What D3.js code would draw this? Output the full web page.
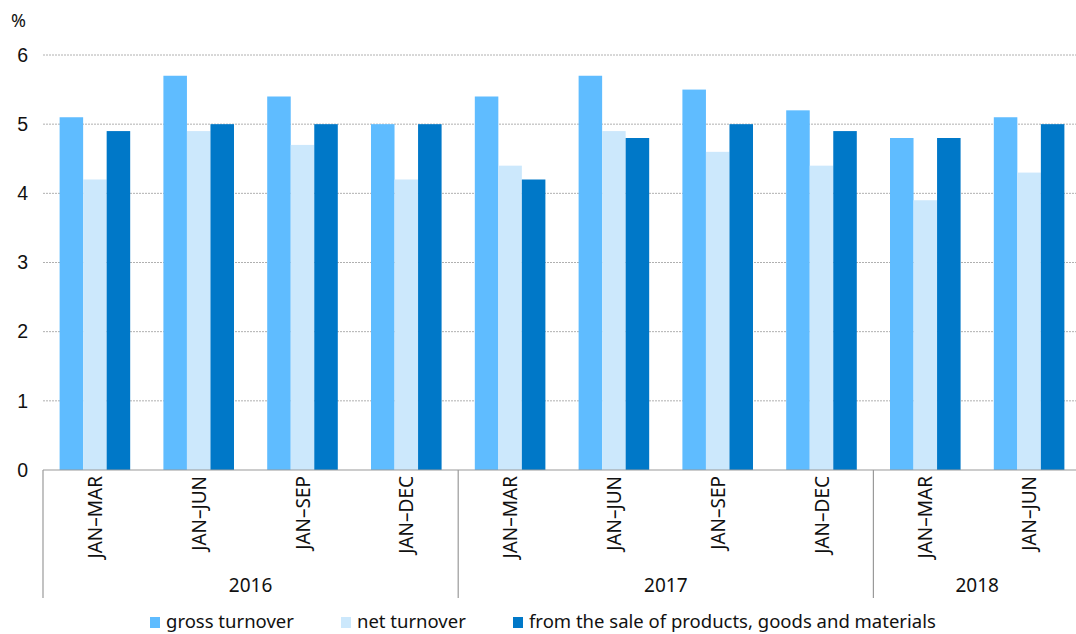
<!DOCTYPE html>
<html>
<head>
<meta charset="utf-8">
<script src="https://cdn.jsdelivr.net/npm/d3@7"></script>
<style>
  html, body { margin: 0; padding: 0; background: #fff; }
  svg { display: block; font-family: "Noto Sans", "Open Sans", sans-serif; }
</style>
</head>
<body>
<svg id="chart" width="1076" height="634"></svg>
<script>
// Quarterly periods and the year each group belongs to
const periods = ["JAN–MAR", "JAN–JUN", "JAN–SEP", "JAN–DEC", "JAN–MAR", "JAN–JUN", "JAN–SEP", "JAN–DEC", "JAN–MAR", "JAN–JUN"];
const years = ["2016", "2016", "2016", "2016", "2017", "2017", "2017", "2017", "2018", "2018"];

// Series values, %
const grossTurnover = [5.1, 5.7, 5.4, 5.0, 5.4, 5.7, 5.5, 5.2, 4.8, 5.1];
const netTurnover = [4.2, 4.9, 4.7, 4.2, 4.4, 4.9, 4.6, 4.4, 3.9, 4.3];
const fromSale = [4.9, 5.0, 5.0, 5.0, 4.2, 4.8, 5.0, 4.9, 4.8, 5.0];

const seriesNames = ["gross turnover", "net turnover", "from the sale of products, goods and materials"];
const yTicks = [0, 1, 2, 3, 4, 5, 6];

const colors = ["#5fbcff", "#cce8fc", "#0078c8"];
const seriesValues = [grossTurnover, netTurnover, fromSale];

const svg = d3.select("#chart");
const plotLeft = 43, plotRight = 1081, plotTop = 55, plotBottom = 470;

const x = d3.scaleBand().domain(d3.range(periods.length)).range([plotLeft, plotRight]).paddingInner(0.32).paddingOuter(0.16);
const xInner = d3.scaleBand().domain(d3.range(3)).range([0, x.bandwidth()]);
const y = d3.scaleLinear().domain([0, 6]).range([plotBottom, plotTop]);
const step = x.step();

// Horizontal gridlines
svg.append("g")
  .selectAll("line")
  .data(yTicks.filter(t => t > 0))
  .join("line")
  .attr("x1", plotLeft).attr("x2", 1076)
  .attr("y1", d => y(d)).attr("y2", d => y(d))
  .attr("stroke", "#b0b0b0").attr("stroke-width", 1)
  .attr("stroke-dasharray", "2,1");

// Y axis labels
const yAxis = d3.axisLeft(y).tickValues(yTicks).tickSize(0).tickPadding(15).tickFormat(d3.format("d"));
const gy = svg.append("g").attr("transform", `translate(${plotLeft},0)`).call(yAxis);
gy.select(".domain").remove();
gy.selectAll("text").attr("font-size", 19.5).attr("fill", "#111").attr("font-family", null);

svg.append("text").attr("x", 11).attr("y", 27).attr("font-size", 18).attr("fill", "#111").text("%");

// Bars
const groups = svg.append("g")
  .selectAll("g")
  .data(periods.map((p, i) => i))
  .join("g")
  .attr("transform", i => `translate(${x(i)},0)`);

groups.selectAll("rect")
  .data(i => seriesValues.map((s, k) => ({ k, v: s[i] })))
  .join("rect")
  .attr("x", d => xInner(d.k))
  .attr("width", xInner.bandwidth())
  .attr("y", d => y(d.v))
  .attr("height", d => y(0) - y(d.v))
  .attr("fill", d => colors[d.k]);

// Baseline
svg.append("line")
  .attr("x1", plotLeft).attr("x2", 1076)
  .attr("y1", y(0)).attr("y2", y(0))
  .attr("stroke", "#9a9a9a").attr("stroke-width", 1.2);

// Year separators
const boundaries = [0];
years.forEach((yr, i) => { if (i > 0 && yr !== years[i - 1]) boundaries.push(i); });
svg.append("g")
  .selectAll("line")
  .data(boundaries)
  .join("line")
  .attr("x1", i => plotLeft + i * step).attr("x2", i => plotLeft + i * step)
  .attr("y1", y(0)).attr("y2", 598)
  .attr("stroke", "#9a9a9a").attr("stroke-width", 1.2);

// Rotated period labels
svg.append("g")
  .selectAll("text")
  .data(periods.map((p, i) => i))
  .join("text")
  .attr("transform", i => `translate(${x(i) + x.bandwidth() / 2 + 7},${y(0) + 6}) rotate(-90)`)
  .attr("text-anchor", "end")
  .attr("font-size", 19)
  .attr("fill", "#111")
  .text(i => periods[i]);

// Year labels
const yearList = Array.from(new Set(years));
svg.append("g")
  .selectAll("text")
  .data(yearList)
  .join("text")
  .attr("x", yr => {
    const idx = years.map((v, i) => i).filter(i => years[i] === yr);
    return (x(idx[0]) + x(idx[idx.length - 1]) + x.bandwidth()) / 2;
  })
  .attr("y", 592)
  .attr("text-anchor", "middle")
  .attr("font-size", 19)
  .attr("fill", "#111")
  .text(yr => yr);

// Legend
const legendX = [150, 341, 513];
const legend = svg.append("g")
  .selectAll("g")
  .data(seriesNames)
  .join("g")
  .attr("transform", (d, i) => `translate(${legendX[i]},617)`);
legend.append("rect").attr("width", 10).attr("height", 11).attr("fill", (d, i) => colors[i]);
legend.append("text").attr("x", 16).attr("y", 11).attr("font-size", 18.5).attr("fill", "#111").text(d => d);
</script>
</body>
</html>
